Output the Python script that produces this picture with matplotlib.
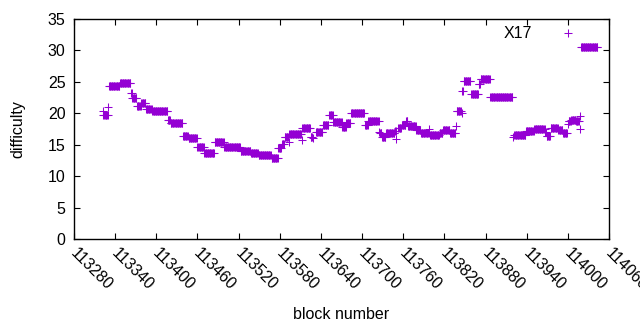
import numpy as np
import matplotlib
matplotlib.use("Agg")
import matplotlib.pyplot as plt

# Runs of consecutive blocks sharing one difficulty value
run_start = [113322, 113323, 113330, 113331, 113347, 113363, 113365, 113372, 113378,
             113385, 113394, 113417, 113421, 113439, 113447, 113460, 113470, 113485,
             113499, 113523, 113538, 113549, 113568, 113578, 113583, 113587, 113593,
             113594, 113612, 113613, 113625, 113628, 113633, 113643, 113652, 113658,
             113671, 113677, 113684, 113704, 113709, 113725, 113726, 113729, 113735,
             113748, 113750, 113753, 113758, 113764, 113767, 113779, 113786, 113798,
             113799, 113813, 113818, 113828, 113837, 113838, 113845, 113846, 113848,
             113859, 113870, 113873, 113887, 113920, 113922, 113939, 113951, 113967,
             113969, 113975, 113986, 113993, 114000, 114001, 114005, 114012, 114017,
             114018, 114019]
run_end = [113322, 113329, 113330, 113346, 113362, 113364, 113371, 113377, 113384,
           113393, 113416, 113420, 113438, 113446, 113459, 113469, 113484, 113498,
           113522, 113537, 113548, 113567, 113577, 113582, 113586, 113592, 113593,
           113611, 113612, 113624, 113627, 113628, 113642, 113651, 113657, 113670,
           113676, 113683, 113703, 113708, 113724, 113725, 113728, 113734, 113747,
           113749, 113750, 113757, 113763, 113766, 113778, 113785, 113797, 113798,
           113812, 113817, 113827, 113836, 113837, 113844, 113845, 113847, 113858,
           113869, 113872, 113886, 113919, 113920, 113938, 113950, 113966, 113968,
           113974, 113985, 113992, 113999, 114000, 114004, 114011, 114016, 114017,
           114018, 114043]
run_value = [20.4, 19.8, 21.0, 24.4, 24.8, 23.2, 22.4, 21.2, 21.6,
             20.7, 20.3, 18.9, 18.4, 16.4, 16.0, 14.7, 13.7, 15.5,
             14.7, 14.0, 13.7, 13.3, 12.9, 14.5, 15.1, 16.3, 15.5,
             16.7, 15.8, 17.6, 16.2, 16.1, 17.1, 18.1, 19.8, 18.6,
             17.8, 18.5, 20.0, 18.2, 18.7, 17.1, 16.8, 16.3, 16.8,
             17.2, 15.9, 17.6, 18.2, 18.7, 18.0, 17.3, 16.9, 17.5,
             16.6, 16.9, 17.4, 16.9, 17.9, 20.4, 20.0, 23.6, 25.2,
             23.0, 24.6, 25.4, 22.55, 16.3, 16.5, 17.2, 17.45, 17.0,
             16.4, 17.7, 17.3, 16.9, 18.3, 18.7, 19.0, 18.7, 17.45,
             19.6, 30.6]

xticks = list(range(113280, 114061, 60))
yticks = list(range(0, 36, 5))

blocks = []
diffs = []
for s, e, v in zip(run_start, run_end, run_value):
    for b in range(s, e + 1):
        blocks.append(b)
        diffs.append(v)

plt.rcParams['font.family'] = ['Liberation Sans', 'DejaVu Sans']
fig = plt.figure(figsize=(6.4, 3.3), dpi=100)
ax = fig.add_axes([74/640, 1 - 239/330, (609-74)/640, (239-19)/330])

color = '#9400D3'
ax.plot(blocks, diffs, linestyle='none', marker='+', markersize=5.2,
        markeredgewidth=0.75, color=color, label='X17')

fs = 11.5
ax.set_xlim(113280, 114060)
ax.set_ylim(0, 35)
ax.set_xticks(xticks)
ax.set_yticks(yticks)
ax.set_xticklabels([str(t) for t in xticks], rotation=-45, ha='left',
                   va='center_baseline', rotation_mode='anchor', fontsize=fs)
ax.set_yticklabels([str(t) for t in yticks], fontsize=fs)
ax.tick_params(direction='in', length=4, width=0.8, top=True, right=True, pad=6)
ax.tick_params(axis='x', pad=8)
for sp in ax.spines.values():
    sp.set_linewidth(1.0)

ax.set_xlabel('block number', fontsize=fs, labelpad=10)
ax.set_ylabel('difficulty', fontsize=fs, labelpad=16)

leg = ax.legend(loc='upper right', frameon=False, markerfirst=False,
                fontsize=fs, handlelength=2.5, handletextpad=1.0,
                bbox_to_anchor=(0.979, 1.01), borderaxespad=0.2)

fig.savefig('out.png', dpi=100)
